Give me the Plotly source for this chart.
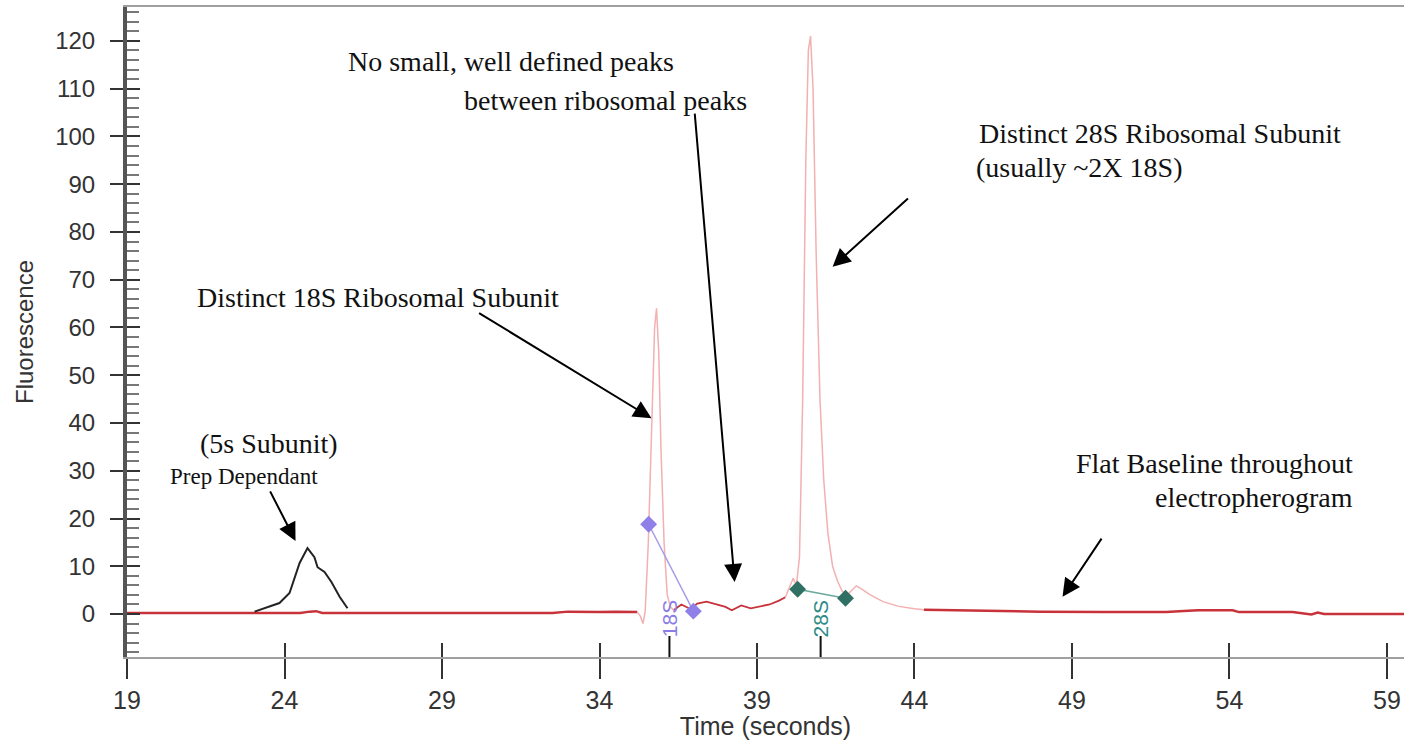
import plotly.graph_objects as go

# ---------------- data ----------------
base1_t = [19.0, 22.0, 24.5, 24.8, 25.0, 25.2, 28.0, 32.5, 33.0, 33.5, 34.0, 34.5, 35.0, 35.2]
base1_v = [0.2, 0.2, 0.2, 0.5, 0.6, 0.2, 0.2, 0.2, 0.5, 0.4, 0.4, 0.5, 0.5, 0.4]

peak18_t = [35.2, 35.3, 35.38, 35.45, 35.55, 35.65, 35.75, 35.81, 35.88, 35.95, 36.05, 36.15, 36.25, 36.35]
peak18_v = [0.4, -0.5, -2.0, 0.5, 15.0, 40.0, 60.0, 64.0, 55.0, 35.0, 15.0, 4.0, 1.5, 0.8]

mid_t = [36.35, 36.6, 36.9, 37.1, 37.4, 37.7, 38.0, 38.2, 38.5, 38.8, 39.1, 39.4, 39.7, 39.9]
mid_v = [0.8, 2.0, 1.0, 2.2, 2.6, 2.0, 1.5, 0.8, 1.8, 1.2, 1.6, 2.0, 2.8, 3.5]

peak28_t = [39.9, 40.05, 40.15, 40.25, 40.35, 40.45, 40.55, 40.63, 40.70, 40.78, 40.88, 41.0, 41.12,
             41.25, 41.4, 41.55, 41.7, 41.85, 42.0, 42.15, 42.3, 42.6, 43.0, 43.5, 44.0, 44.3]
peak28_v = [3.5, 6.0, 7.5, 6.0, 12.0, 45.0, 95.0, 118.0, 121.0, 110.0, 75.0, 45.0, 28.0,
            17.0, 10.0, 7.0, 4.8, 3.9, 5.0, 5.9, 5.3, 4.0, 2.6, 1.6, 1.1, 0.9]

base2_t = [44.3, 46.0, 48.0, 50.0, 52.0, 52.4, 52.7, 53.0, 54.1, 54.3, 56.0, 56.3, 56.6, 56.8, 57.0, 59.6]
base2_v = [0.9, 0.7, 0.5, 0.4, 0.4, 0.6, 0.7, 0.8, 0.8, 0.4, 0.4, 0.2, -0.1, 0.3, 0.0, 0.0]

s5_t = [23.05, 23.5, 23.84, 24.16, 24.48, 24.73, 24.95, 25.05, 25.27, 25.49, 25.75, 26.0]
s5_v = [0.5, 1.5, 2.3, 4.4, 10.7, 13.8, 11.9, 9.8, 8.8, 6.7, 3.6, 1.2]

m18_t = [35.56, 36.98]
m18_v = [18.8, 0.6]
m28_t = [40.29, 41.81]
m28_v = [5.2, 3.3]

label_t = [36.22, 41.02]
label_text = ["18S", "28S"]
label_colors = ["#8a7de6", "#2e8a86"]
label_tick_v = [-4.6, -9.0]

x_ticks = [19, 24, 29, 34, 39, 44, 49, 54, 59]
y_ticks = [0, 10, 20, 30, 40, 50, 60, 70, 80, 90, 100, 110, 120]

RED = "#c8323a"
PINK = "#f3b0b0"

fig = go.Figure()

for t, v, w in [(base1_t, base1_v, 2.5), (mid_t, mid_v, 1.8), (base2_t, base2_v, 2.5)]:
    fig.add_trace(go.Scatter(x=t, y=v, mode="lines", line=dict(color=RED, width=w),
                             hoverinfo="skip", showlegend=False))
for t, v in [(peak18_t, peak18_v), (peak28_t, peak28_v)]:
    fig.add_trace(go.Scatter(x=t, y=v, mode="lines", line=dict(color=PINK, width=1.5),
                             hoverinfo="skip", showlegend=False))

fig.add_trace(go.Scatter(x=s5_t, y=s5_v, mode="lines", line=dict(color="#222222", width=2),
                         hoverinfo="skip", showlegend=False))

fig.add_trace(go.Scatter(x=m18_t, y=m18_v, mode="lines+markers",
                         line=dict(color="#a89be8", width=1.5),
                         marker=dict(symbol="diamond", size=13, color="#8f7fe8"),
                         showlegend=False))
fig.add_trace(go.Scatter(x=m28_t, y=m28_v, mode="lines+markers",
                         line=dict(color="#6aa79c", width=1.5),
                         marker=dict(symbol="diamond", size=13, color="#2f6f64"),
                         showlegend=False))

# small black ticks under the peak labels
tick_x, tick_y = [], []
for t in label_t:
    tick_x += [t, t, None]
    tick_y += [label_tick_v[0], label_tick_v[1], None]
fig.add_trace(go.Scatter(x=tick_x, y=tick_y, mode="lines", line=dict(color="#111111", width=2),
                         hoverinfo="skip", showlegend=False))

# rotated peak labels
for t, txt, c in zip(label_t, label_text, label_colors):
    fig.add_annotation(x=t, y=-1.0, text=txt, showarrow=False, textangle=-90,
                       font=dict(family="Liberation Sans", size=21, color=c),
                       xref="x", yref="y")

SERIF = "Liberation Serif"
texts = [
    ("No small, well defined peaks", 31.2, 115.6, "center", 28),
    ("between ribosomal peaks", 34.2, 107.6, "center", 28),
    ("Distinct 28S Ribosomal Subunit", 51.78, 100.7, "center", 28),
    ("(usually ~2X 18S)", 45.9, 93.4, "left", 28),
    ("Distinct 18S Ribosomal Subunit", 26.98, 66.2, "center", 28),
    ("(5s Subunit)", 23.52, 35.8, "center", 28),
    ("Prep Dependant", 22.73, 28.7, "center", 23),
    ("Flat Baseline throughout", 57.97, 31.6, "right", 28),
    ("electropherogram", 57.97, 24.5, "right", 28),
]
for txt, x, y, anchor, size in texts:
    fig.add_annotation(x=x, y=y, text=txt, showarrow=False, xanchor=anchor, yanchor="middle",
                       font=dict(family=SERIF, size=size, color="#111111"))

arrows = [
    (38.29, 6.7, 37.02, 105.1),
    (41.40, 72.7, 43.84, 87.3),
    (35.65, 41.0, 30.13, 63.2),
    (24.35, 15.3, 23.52, 26.0),
    (48.70, 3.6, 49.97, 16.1),
]
for hx, hy, tx, ty in arrows:
    fig.add_annotation(x=hx, y=hy, ax=tx, ay=ty, xref="x", yref="y", axref="x", ayref="y",
                       text="", showarrow=True, arrowhead=2, arrowsize=1.8, arrowwidth=2,
                       arrowcolor="#000000")

YR = [-9.0, 127.1]
XR = [19.0, 59.54]

fig.update_layout(
    width=1404, height=740,
    margin=dict(l=127, r=0, t=7, b=83),
    paper_bgcolor="white", plot_bgcolor="white",
    showlegend=False,
    xaxis=dict(range=XR, tickvals=x_ticks, ticks="outside", ticklen=20, tickwidth=2,
               tickcolor="#333333", showline=True, linecolor="#a0a0a0", linewidth=2,
               mirror=True, showgrid=False, zeroline=False, ticklabeloverflow="allow",
               tickfont=dict(family="Liberation Sans", size=25, color="#333333"),
               title=dict(text="Time (seconds)", standoff=0,
                          font=dict(family="Liberation Sans", size=25, color="#333333")),
               automargin=False),
    xaxis2=dict(range=XR, overlaying="x", tickvals=x_ticks, ticks="inside", ticklen=14,
                tickwidth=2, tickcolor="#333333", showticklabels=False, showline=False,
                showgrid=False, zeroline=False, side="bottom"),
    yaxis=dict(range=YR, tickvals=y_ticks, ticks="outside", ticklen=13, tickwidth=2,
               tickcolor="#333333", showline=True, linecolor="#555555", linewidth=4,
               showgrid=False, zeroline=False, ticklabelstandoff=10,
               minor=dict(dtick=2, tick0=0, ticks="inside", ticklen=12, tickwidth=1.5,
                          tickcolor="#777777"),
               tickfont=dict(family="Liberation Sans", size=24, color="#333333"),
               title=dict(text="Fluorescence", standoff=16,
                          font=dict(family="Liberation Sans", size=24, color="#333333")),
               automargin=False),
    yaxis2=dict(range=YR, overlaying="y", tickvals=y_ticks, ticks="inside", ticklen=13,
                tickwidth=2, tickcolor="#333333", showticklabels=False, showline=False,
                showgrid=False, zeroline=False, side="left"),
)

fig.add_trace(go.Scatter(x=[None], y=[None], xaxis="x2", yaxis="y2", mode="lines",
                         hoverinfo="skip", showlegend=False))

fig.write_html("out.html", config={"displayModeBar": False},
               post_script="document.body.style.margin='0';")
